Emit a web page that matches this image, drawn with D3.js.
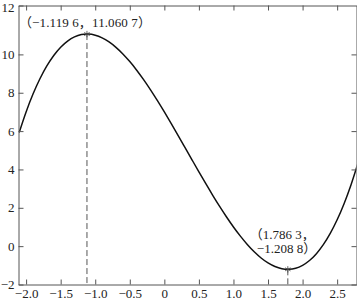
<!DOCTYPE html>
<html>
<head>
<meta charset="utf-8">
<script src="https://cdn.jsdelivr.net/npm/d3@7"></script>
<style>
  body { margin: 0; background: #fff; }
  svg { display: block; font-family: "Liberation Serif", "Noto Sans CJK SC", serif; }
  .axis path, .axis line { stroke: #555; }
  .axis text { fill: #222; font-size: 13px; font-family: "Liberation Serif", serif; }
</style>
</head>
<body>
<svg width="357" height="300"></svg>
<script>
// curve samples
const xs = [-2.1, -2.0, -1.9, -1.8, -1.7, -1.6, -1.5, -1.4, -1.3, -1.2, -1.1, -1.0, -0.9, -0.8, -0.7, -0.6, -0.5, -0.4, -0.3, -0.2, -0.1,
  0, 0.1, 0.2, 0.3, 0.4, 0.5, 0.6, 0.7, 0.8, 0.9, 1.0, 1.1, 1.2, 1.3, 1.4, 1.5, 1.6, 1.7, 1.8, 1.9, 2.0, 2.1, 2.2, 2.3, 2.4, 2.5, 2.6, 2.7, 2.8];
const ys = [5.929, 7, 7.931, 8.728, 9.397, 9.944, 10.375, 10.696, 10.913, 11.032, 11.059, 11, 10.861, 10.648, 10.367, 10.024, 9.625, 9.176, 8.683, 8.152, 7.589,
  7, 6.391, 5.768, 5.137, 4.504, 3.875, 3.256, 2.653, 2.072, 1.519, 1, 0.521, 0.088, -0.293, -0.616, -0.875, -1.064, -1.177, -1.208, -1.151, -1, -0.749, -0.392, 0.077, 0.664, 1.375, 2.216, 3.193, 4.312];

// extreme points
const extX = [-1.1196, 1.7863];
const extY = [11.0607, -1.2088];
const extLabels = [["（−1.119 6，11.060 7）"], ["（1.786 3，", "−1.208 8）"]];

const xTicks = [-2.0, -1.5, -1.0, -0.5, 0, 0.5, 1.0, 1.5, 2.0, 2.5];
const xTickLabels = ["−2.0", "−1.5", "−1.0", "−0.5", "0", "0.5", "1.0", "1.5", "2.0", "2.5"];
const yTicks = [-2, 0, 2, 4, 6, 8, 10, 12.55];
const yTickLabels = ["−2", "0", "2", "4", "6", "8", "10", "12"];

const svg = d3.select("svg");
const mLeft = 18.5, mRight = 356.5, mTop = 5.5, mBottom = 284.5;

const x = d3.scaleLinear().domain([-2.11, 2.78]).range([mLeft, mRight]);
const y = d3.scaleLinear().domain([-2, 12.55]).range([mBottom, mTop]);

svg.append("clipPath").attr("id", "clip")
  .append("rect").attr("x", mLeft).attr("y", mTop).attr("width", mRight - mLeft).attr("height", mBottom - mTop);

// dashed drop lines
svg.append("g").selectAll("line")
  .data(extX)
  .enter().append("line")
  .attr("x1", d => x(d)).attr("x2", d => x(d))
  .attr("y1", (d, i) => y(extY[i])).attr("y2", mBottom)
  .attr("stroke", "#555").attr("stroke-width", 1)
  .attr("stroke-dasharray", "6,3");

// curve
const line = d3.line()
  .x((d, i) => x(xs[i]))
  .y(d => y(d))
  .curve(d3.curveCatmullRom);

svg.append("path")
  .datum(ys)
  .attr("clip-path", "url(#clip)")
  .attr("d", line)
  .attr("fill", "none")
  .attr("stroke", "#111")
  .attr("stroke-width", 1.5);

// asterisk markers
const star = d3.symbol().type(d3.symbolAsterisk).size(28);
svg.append("g").selectAll("path")
  .data(extX)
  .enter().append("path")
  .attr("d", star)
  .attr("transform", (d, i) => `translate(${x(d)},${y(extY[i])})`)
  .attr("fill", "none")
  .attr("stroke", "#444")
  .attr("stroke-width", 0.8);

// axes, ticks pointing inward on all four sides
svg.append("g").attr("class", "axis")
  .attr("transform", `translate(0,${mBottom})`)
  .call(d3.axisBottom(x).tickValues(xTicks).tickSizeInner(-5).tickSizeOuter(0).tickPadding(4)
    .tickFormat((d, i) => xTickLabels[i]));

svg.append("g").attr("class", "axis")
  .attr("transform", `translate(${mLeft},0)`)
  .call(d3.axisLeft(y).tickValues(yTicks).tickSizeInner(-5).tickSizeOuter(0).tickPadding(4)
    .tickFormat((d, i) => yTickLabels[i]))
  .selectAll(".tick text")
  .attr("dy", (d, i) => i === yTicks.length - 1 ? "0.45em" : "0.32em");

svg.append("g").attr("class", "axis")
  .attr("transform", `translate(0,${mTop})`)
  .call(d3.axisTop(x).tickValues(xTicks).tickSizeInner(-5).tickSizeOuter(0).tickFormat(""));

svg.append("g").attr("class", "axis")
  .attr("transform", `translate(${mRight},0)`)
  .call(d3.axisRight(y).tickValues(yTicks.slice(0, -1)).tickSizeInner(-5).tickSizeOuter(0).tickFormat(""));

// annotations
const ann = svg.append("g").attr("font-size", 13).attr("fill", "#222");
ann.append("text")
  .attr("x", x(extX[0]) - 68).attr("y", y(extY[0]) - 7)
  .attr("textLength", 132)
  .text(extLabels[0][0]);
const ann2 = ann.append("text")
  .attr("x", x(extX[1]) - 38).attr("y", y(extY[1]) - 30);
ann2.append("tspan").text(extLabels[1][0]);
ann2.append("tspan").attr("x", x(extX[1]) - 31).attr("dy", 14).text(extLabels[1][1]);
</script>
</body>
</html>
